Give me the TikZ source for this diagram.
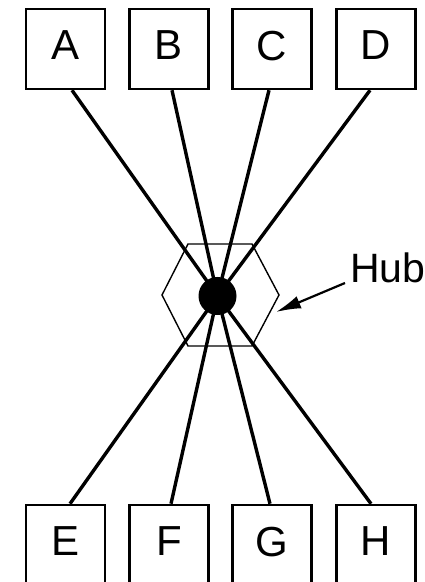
\documentclass[tikz,border=0pt]{standalone}
\usepackage{fontspec}
\setmainfont{Liberation Sans}
\usetikzlibrary{arrows.meta}
\begin{document}
\begin{tikzpicture}[x=1pt,y=1pt,
  station/.style={draw,line width=2.5pt,minimum width=79pt,minimum height=80pt,inner sep=0pt,
    font=\fontsize{42}{42}\selectfont,text depth=7pt},
  link/.style={line width=3.4pt},
  hexline/.style={line width=1.4pt,line join=miter},
  pointer/.style={line width=2.2pt,-{Latex[length=25pt,width=13pt]}}]
\useasboundingbox (0,0) rectangle (425,582);
\begin{scope}
\clip (0,0) rectangle (425,582);
\node[station] (A) at (65.5,533) {A};
\node[station] (B) at (169,533) {B};
\node[station] (C) at (272,533) {C};
\node[station] (D) at (376,533) {D};
\node[station] (E) at (65.5,37) {E};
\node[station] (F) at (169,37) {F};
\node[station] (G) at (272,37) {G};
\node[station] (H) at (376,37) {H};
\coordinate (hub) at (217.5,286);
\draw[hexline] (162,287) -- (188,338) -- (252,338) -- (279,287) -- (252,236) -- (188,236) -- cycle;
\draw[link] ([xshift=6.5pt]A.south) -- (hub);
\draw[link] ([xshift=3pt]B.south) -- (hub);
\draw[link] ([xshift=-3pt]C.south) -- (hub);
\draw[link] ([xshift=-6pt]D.south) -- (hub);
\draw[link] ([xshift=4.5pt]E.north) -- (hub);
\draw[link] ([xshift=2pt]F.north) -- (hub);
\draw[link] ([xshift=-2pt]G.north) -- (hub);
\draw[link] ([xshift=-5pt]H.north) -- (hub);
\node[circle,fill=black,minimum size=38pt,inner sep=0pt] (dot) at (hub) {};
\node[anchor=base west,inner sep=0pt,font=\fontsize{41}{41}\selectfont] (hubtext) at (350,299) {Hub};
\coordinate (tail) at (345,299);
\coordinate (tip) at (276,270);
\draw[pointer] (tail) -- (tip);
\end{scope}
\end{tikzpicture}
\end{document}
